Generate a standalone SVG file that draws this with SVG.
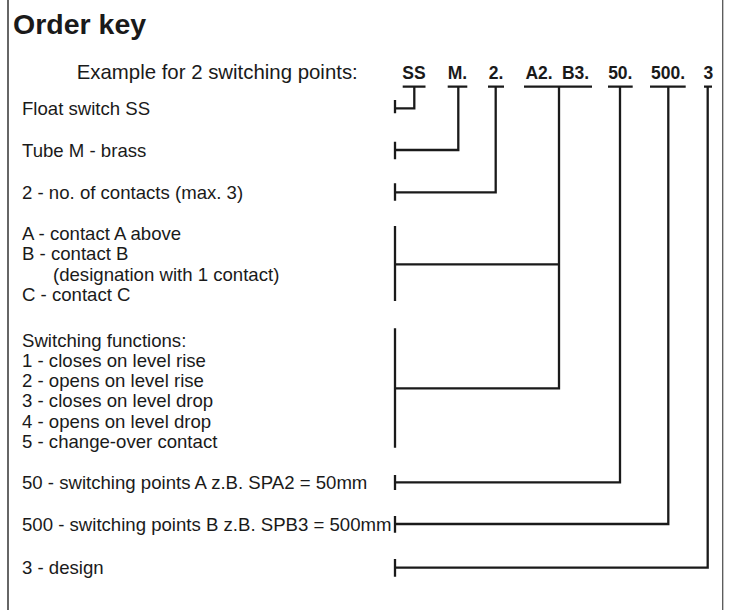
<svg xmlns="http://www.w3.org/2000/svg" width="729" height="610" viewBox="0 0 729 610">
<style>
.t{font-family:"Liberation Sans",Arial,sans-serif;font-size:18.6px;fill:#1a1a1a}
.c{font-family:"Liberation Sans",Arial,sans-serif;font-size:17.5px;font-weight:bold;fill:#1a1a1a;text-anchor:middle}
.ln{fill:none;stroke:#1a1a1a;stroke-width:2.3;stroke-linecap:butt;stroke-linejoin:miter}
</style>
<rect x="0" y="0" width="729" height="610" fill="#fff"/>
<g id="frame">
<line x1="8" y1="0" x2="8" y2="610" stroke="#333" stroke-width="1.5"/>
<line x1="722.7" y1="0" x2="722.7" y2="610" stroke="#555" stroke-width="1.3"/>
</g>
<g id="title">
<text x="13" y="34" style="font-family:'Liberation Sans',Arial,sans-serif;font-size:28.5px;font-weight:bold;fill:#1a1a1a">Order key</text>
<text x="76.7" y="79" style="font-family:'Liberation Sans',Arial,sans-serif;font-size:20.4px;fill:#1a1a1a">Example for 2 switching points:</text>
</g>
<g id="codes">
<text class="c" x="414" y="78.5">SS</text>
<text class="c" x="457.5" y="78.5">M.</text>
<text class="c" x="496" y="78.5">2.</text>
<text class="c" x="539" y="78.5">A2.</text>
<text class="c" x="575.5" y="78.5">B3.</text>
<text class="c" x="620.3" y="78.5">50.</text>
<text class="c" x="668" y="78.5">500.</text>
<text class="c" x="708.3" y="78.5">3</text>
</g>
<g id="labels">
<text class="t" x="22" y="115">Float switch SS</text>
<text class="t" x="22" y="156.7">Tube M - brass</text>
<text class="t" x="22" y="199">2 - no. of contacts (max. 3)</text>
<text class="t" x="22" y="240">A - contact A above</text>
<text class="t" x="22" y="260.3">B - contact B</text>
<text class="t" x="53" y="280.6">(designation with 1 contact)</text>
<text class="t" x="22" y="300.9">C - contact C</text>
<text class="t" x="22" y="346.7">Switching functions:</text>
<text class="t" x="22" y="367">1 - closes on level rise</text>
<text class="t" x="22" y="387.2">2 - opens on level rise</text>
<text class="t" x="22" y="407.4">3 - closes on level drop</text>
<text class="t" x="22" y="427.6">4 - opens on level drop</text>
<text class="t" x="22" y="447.8">5 - change-over contact</text>
<text class="t" x="22" y="489">50 - switching points A z.B. SPA2 = 50mm</text>
<text class="t" x="22" y="530.7">500 - switching points B z.B. SPB3 = 500mm</text>
<text class="t" x="22" y="574.4">3 - design</text>
</g>
<g id="connectors">
<path class="ln" d="M402.7,86.7H425.5M447.7,86.7H467.3M488,86.7H504M524,86.7H592M608,86.7H632.7M650,86.7H685.7M704,86.7H712"/>
<path class="ln" d="M414.3,86.7V108.3H395M395,100V113.3"/>
<path class="ln" d="M458.3,86.7V150H395M395,141.7V159.3"/>
<path class="ln" d="M495.7,86.7V192.3H395M395,183.3V200.7"/>
<path class="ln" d="M559,86.7V388.3H395M559,264.3H395M395,226V301M395,328.3V447.7"/>
<path class="ln" d="M620,86.7V482.3H395M395,475V490"/>
<path class="ln" d="M668.3,86.7V524H395M395,516V532.7"/>
<path class="ln" d="M707.7,86.7V567.7H395M395,559V576.7"/>
</g>
</svg>
